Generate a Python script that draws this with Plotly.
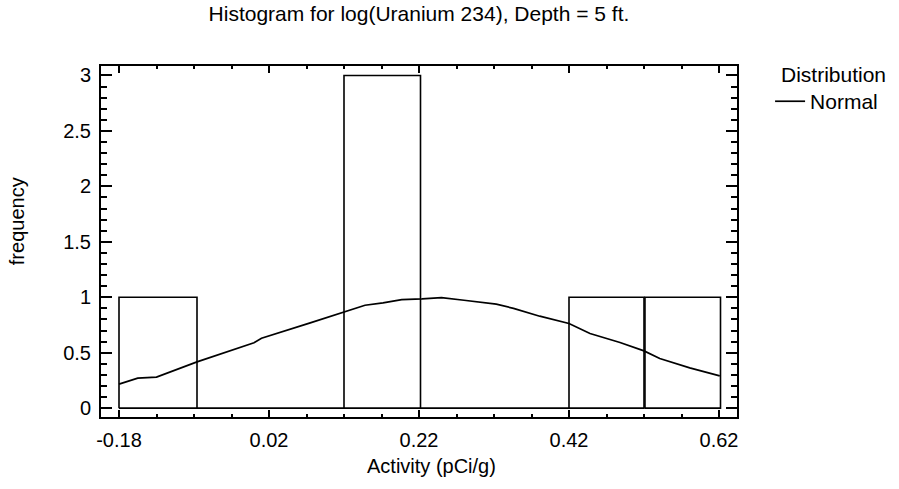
import plotly.graph_objects as go

# Histogram bins
bin_left = [-0.18, -0.076, 0.12, 0.222, 0.42, 0.5213]
bin_right = [-0.076, 0.12, 0.222, 0.42, 0.52, 0.622]
bin_count = [1, 0, 3, 0, 1, 1]

# Fitted normal curve
curve_x = [-0.18, -0.155, -0.13, -0.076, 0.0, 0.01, 0.075, 0.119, 0.148, 0.172,
           0.197, 0.224, 0.25, 0.28, 0.306, 0.323, 0.346, 0.381, 0.42, 0.448,
           0.488, 0.52, 0.541, 0.581, 0.621]
curve_y = [0.216, 0.27, 0.28, 0.417, 0.59, 0.63, 0.769, 0.868, 0.928, 0.949,
           0.979, 0.985, 0.997, 0.973, 0.955, 0.937, 0.90, 0.829, 0.763, 0.673,
           0.592, 0.516, 0.447, 0.363, 0.291]

x_ticks = [-0.18, 0.02, 0.22, 0.42, 0.62]
x_ticklabels = ["-0.18", "0.02", "0.22", "0.42", "0.62"]
y_ticks = [0, 0.5, 1, 1.5, 2, 2.5, 3]
y_ticklabels = ["0", "0.5", "1", "1.5", "2", "2.5", "3"]

FONT = "Liberation Sans, Arial, sans-serif"
FS = 20

hx, hy = [], []
for l, r, c in zip(bin_left, bin_right, bin_count):
    hx += [l, l, r, r, l, None]
    hy += [0, c, c, 0, 0, None]

fig = go.Figure()
fig.add_trace(go.Scatter(x=hx, y=hy, mode="lines", line=dict(color="black", width=1.6),
                         showlegend=False, hoverinfo="skip"))
fig.add_trace(go.Scatter(x=curve_x, y=curve_y, mode="lines", name="Normal",
                         line=dict(color="black", width=1.7)))

axis_common = dict(showline=True, linecolor="black", linewidth=2, mirror="ticks",
                   showgrid=False, zeroline=False, ticks="inside", tickcolor="black",
                   tickwidth=1.5, tickfont=dict(family=FONT, size=FS, color="black"))

fig.update_xaxes(range=[-0.204, 0.644], tickvals=x_ticks, ticktext=x_ticklabels,
                 ticklen=7, ticklabelstandoff=4,
                 minor=dict(tick0=-0.18, dtick=0.05, ticks="inside", ticklen=3,
                            tickcolor="black", tickwidth=1.5),
                 **axis_common)
fig.update_yaxes(range=[-0.08, 3.085], tickvals=y_ticks, ticktext=y_ticklabels,
                 ticklen=11, ticklabelstandoff=4,
                 minor=dict(tick0=0, dtick=0.1, ticks="inside", ticklen=6,
                            tickcolor="black", tickwidth=1.5),
                 **axis_common)

fig.add_annotation(text="Activity (pCi/g)", xref="paper", yref="paper",
                   x=0.519, y=-0.139, xanchor="center", yanchor="middle", showarrow=False,
                   font=dict(family=FONT, size=FS, color="black"))
fig.add_annotation(text="frequency", xref="paper", yref="paper", textangle=-90,
                   x=-0.132, y=0.558, xanchor="center", yanchor="middle", showarrow=False,
                   font=dict(family=FONT, size=FS, color="black"))
fig.add_annotation(text="Distribution", xref="paper", yref="paper",
                   x=1.152, y=0.975, xanchor="center", yanchor="middle", showarrow=False,
                   font=dict(family=FONT, size=21, color="black"))

fig.update_layout(
    width=899, height=489,
    margin=dict(l=101, r=162, t=66, b=72, autoexpand=False),
    paper_bgcolor="white", plot_bgcolor="white",
    title=dict(text="Histogram for log(Uranium 234), Depth = 5 ft.",
               x=0.466, xanchor="center", y=0.973, yanchor="middle",
               font=dict(family=FONT, size=21, color="black")),
    legend=dict(x=1.052, y=0.957, xanchor="left", yanchor="top",
                font=dict(family=FONT, size=21, color="black"),
                bgcolor="rgba(0,0,0,0)"),
)

fig.write_html("out.html", config={"displayModeBar": False},
               post_script="document.body.style.margin='0';document.body.style.overflow='hidden';")
